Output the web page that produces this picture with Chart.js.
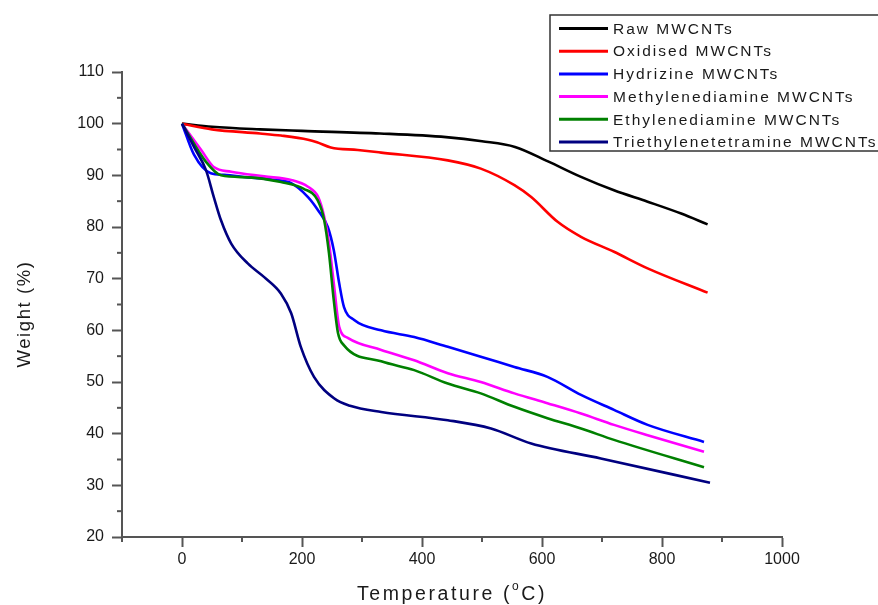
<!DOCTYPE html>
<html>
<head>
<meta charset="utf-8">
<script src="https://cdn.jsdelivr.net/npm/chart.js@4"></script>
<style>
  html, body { margin: 0; padding: 0; background: #fff; }
  #wrap { width: 878px; height: 605px; }
</style>
</head>
<body>
<div id="wrap"><canvas id="tgaChart" width="878" height="605"></canvas></div>
<script>
// TGA curves, temperature (C) vs weight (%)
let seriesNames = ['Raw MWCNTs', 'Oxidised MWCNTs', 'Hydrizine MWCNTs', 'Methylenediamine MWCNTs', 'Ethylenediamine MWCNTs', 'Triethylenetetramine MWCNTs'];
let seriesColors = ['#000000', '#ff0000', '#0000ff', '#ff00ff', '#008000', '#000080'];

let tempRaw = [0, 50, 130, 200, 330, 440, 500, 555, 610, 665, 720, 776, 832, 876];
let weightRaw = [100, 99.4, 98.9, 98.6, 98.1, 97.4, 96.6, 95.5, 92.7, 89.7, 87.1, 84.9, 82.6, 80.5];

let tempOxi = [0, 50, 130, 165, 210, 225, 248, 293, 332, 443, 498, 554, 582, 626, 665, 720, 776, 876];
let weightOxi = [100, 98.9, 98.1, 97.7, 96.9, 96.4, 95.4, 94.9, 94.4, 92.9, 91.3, 88.1, 85.8, 81, 78.1, 75.2, 72, 67.3];

let tempHyd = [0, 20, 48, 70, 110, 150, 182, 210, 227, 243, 253, 262, 270, 287, 332, 387, 443, 498, 554, 609, 665, 720, 776, 870];
let weightHyd = [100, 94, 90.4, 90.1, 89.6, 89.2, 88.5, 85.8, 83.2, 80, 75.5, 69.1, 64.5, 62, 60, 58.7, 56.8, 54.9, 52.9, 51, 47.5, 44.6, 41.7, 38.4];

let tempMet = [0, 32, 53, 82, 137, 182, 210, 227, 237, 245, 253, 262, 277, 332, 387, 443, 498, 554, 609, 665, 720, 776, 870];
let weightMet = [100, 94.9, 91.6, 90.7, 89.8, 89.1, 87.8, 85.8, 82, 76.9, 69.1, 60.7, 58.5, 56.2, 54.2, 51.7, 50, 47.8, 45.9, 43.9, 41.7, 39.7, 36.5];

let tempEth = [0, 40, 65, 110, 165, 203, 226, 237, 245, 253, 260, 270, 332, 387, 443, 498, 554, 609, 665, 720, 870];
let weightEth = [100, 92.6, 90, 89.6, 88.7, 87.4, 85.2, 81.3, 74.9, 65.8, 59.5, 57.1, 54, 52.3, 49.7, 47.8, 45.2, 43, 41, 38.8, 33.5];

let tempTri = [0, 20, 40, 53, 65, 82, 110, 137, 165, 182, 198, 220, 254, 280, 332, 443, 515, 582, 698, 880];
let weightTri = [100, 95.5, 91, 85.8, 81.3, 76.8, 72.9, 70.3, 67.1, 63.3, 56.8, 51, 46.8, 45.4, 44.2, 42.6, 41, 38.1, 35.2, 30.5];

let xMajorTicks = [0, 200, 400, 600, 800, 1000];
let xMinorTicks = [-100, 100, 300, 500, 700, 900];
let yMajorTicks = [20, 30, 40, 50, 60, 70, 80, 90, 100, 110];
let yMinorTicks = [25, 35, 45, 55, 65, 75, 85, 95, 105];

let allTemps = [tempRaw, tempOxi, tempHyd, tempMet, tempEth, tempTri];
let allWeights = [weightRaw, weightOxi, weightHyd, weightMet, weightEth, weightTri];

function toPoints(xs, ys) {
    return xs.map(function (x, i) { return { x: x, y: ys[i] }; });
}

let datasets = seriesNames.map(function (name, i) {
    return {
        label: name,
        data: toPoints(allTemps[i], allWeights[i]),
        borderColor: seriesColors[i],
        borderWidth: 2.6,
        pointRadius: 0,
        fill: false,
        cubicInterpolationMode: 'monotone',
        order: seriesNames.length - 1 - i   // later series drawn on top
    };
});

let axisColor = '#555555';
let textColor = '#1a1a1a';
let fontFam = '"Liberation Sans", Arial, sans-serif';

// short minor ticks + axis titles + boxed legend
let extrasPlugin = {
    id: 'extras',
    afterDraw: function (chart) {
        let ctx = chart.ctx;
        let xs = chart.scales.x, ys = chart.scales.y;
        let area = chart.chartArea;
        ctx.save();
        ctx.strokeStyle = axisColor;
        ctx.lineWidth = 2;
        xMinorTicks.forEach(function (v) {
            let px = xs.getPixelForValue(v);
            ctx.beginPath();
            ctx.moveTo(px, area.bottom);
            ctx.lineTo(px, area.bottom + 5);
            ctx.stroke();
        });
        yMinorTicks.forEach(function (v) {
            let py = ys.getPixelForValue(v);
            ctx.beginPath();
            ctx.moveTo(area.left, py);
            ctx.lineTo(area.left - 5, py);
            ctx.stroke();
        });

        // axis titles
        ctx.fillStyle = textColor;
        ctx.letterSpacing = '2.6px';
        ctx.textBaseline = 'alphabetic';
        ctx.textAlign = 'left';
        let big = '19.5px ' + fontFam, small = '12px ' + fontFam;
        let t1 = 'Temperature (', t2 = 'C)';
        ctx.font = big;
        let w1 = ctx.measureText(t1).width;
        let w2 = ctx.measureText(t2).width;
        ctx.font = small;
        let wo = ctx.measureText('o').width;
        let startX = (area.left + area.right) / 2 - (w1 + wo + w2) / 2;
        ctx.font = big;
        ctx.fillText(t1, startX, 600);
        ctx.font = small;
        ctx.fillText('o', startX + w1, 590);
        ctx.font = big;
        ctx.fillText(t2, startX + w1 + wo, 600);

        ctx.save();
        ctx.translate(30, 314);
        ctx.rotate(-Math.PI / 2);
        ctx.textAlign = 'center';
        ctx.letterSpacing = '1.6px';
        ctx.font = '18.5px ' + fontFam;
        ctx.fillText('Weight (%)', 0, 0);
        ctx.restore();

        // legend box
        ctx.strokeStyle = '#333333';
        ctx.lineWidth = 1.5;
        ctx.strokeRect(550, 15, 350, 136);
        ctx.font = '15.5px ' + fontFam;
        ctx.letterSpacing = '2px';
        ctx.textAlign = 'left';
        ctx.textBaseline = 'middle';
        chart.data.datasets.forEach(function (ds, i) {
            let rowY = 28.5 + i * 22.7;
            ctx.strokeStyle = ds.borderColor;
            ctx.lineWidth = 3;
            ctx.beginPath();
            ctx.moveTo(559, rowY);
            ctx.lineTo(608, rowY);
            ctx.stroke();
            ctx.fillStyle = textColor;
            ctx.fillText(ds.label, 613, rowY + 1);
        });
        ctx.restore();
    }
};

new Chart(document.getElementById('tgaChart'), {
    type: 'line',
    data: { datasets: datasets },
    options: {
        responsive: false,
        animation: false,
        layout: { padding: { top: 72, right: 96, bottom: 0, left: 0 } },
        plugins: {
            legend: { display: false },
            tooltip: { enabled: false }
        },
        scales: {
            x: {
                type: 'linear',
                min: -100,
                max: 1000,
                afterBuildTicks: function (scale) {
                    scale.ticks = xMajorTicks.map(function (v) { return { value: v }; });
                },
                afterFit: function (scale) { scale.height = 68; },
                border: { display: true, color: axisColor, width: 2 },
                grid: { drawOnChartArea: false, drawTicks: true, tickLength: 10, tickColor: axisColor, tickWidth: 2 },
                ticks: {
                    padding: 3,
                    maxRotation: 0,
                    color: textColor,
                    font: { family: fontFam, size: 16 },
                    callback: function (v) { return v; }
                }
            },
            y: {
                type: 'linear',
                min: 20,
                max: 110,
                afterBuildTicks: function (scale) {
                    scale.ticks = yMajorTicks.map(function (v) { return { value: v }; });
                },
                afterFit: function (scale) { scale.width = 122; },
                border: { display: true, color: axisColor, width: 2 },
                grid: { drawOnChartArea: false, drawTicks: true, tickLength: 10, tickColor: axisColor, tickWidth: 2 },
                ticks: {
                    padding: 8,
                    color: textColor,
                    font: { family: fontFam, size: 16 },
                    callback: function (v) { return v; }
                }
            }
        }
    },
    plugins: [extrasPlugin]
});
</script>
</body>
</html>
